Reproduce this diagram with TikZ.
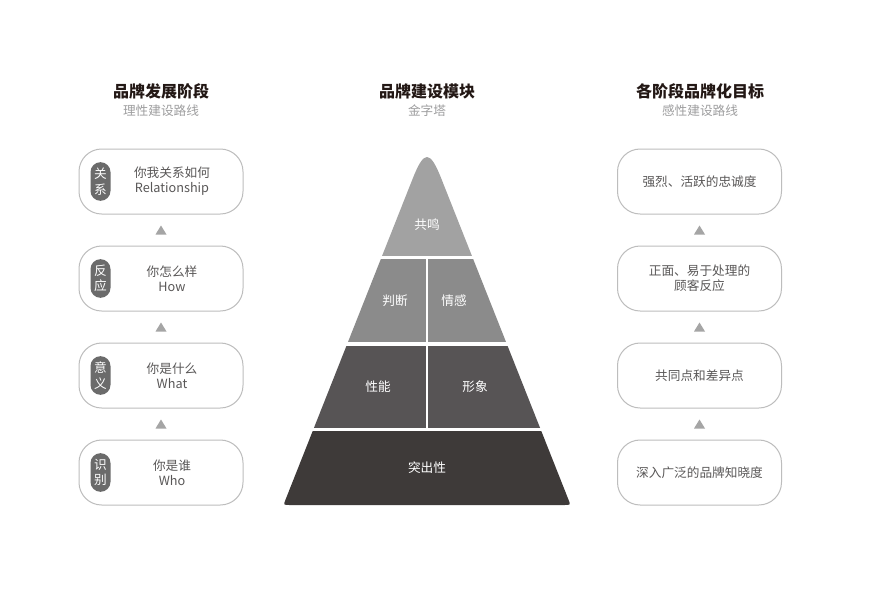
\documentclass[tikz,border=0pt]{standalone}
\usepackage{fontspec}
\setmainfont{Noto Sans CJK SC}
\usetikzlibrary{positioning, calc}
\definecolor{inkdark}{HTML}{231815}
\definecolor{textgray}{HTML}{595757}
\definecolor{subgray}{HTML}{9E9E9F}
\definecolor{linegray}{HTML}{BDBDBD}
\definecolor{taggray}{HTML}{6B6B6B}
\definecolor{markgray}{HTML}{A5A5A5}
\definecolor{tierone}{HTML}{A2A2A2}
\definecolor{tiertwo}{HTML}{8B8B8B}
\definecolor{tierthree}{HTML}{575455}
\definecolor{tierfour}{HTML}{3E3A39}

\begin{document}
\begin{tikzpicture}[
    x=0.75pt, y=-0.75pt,
    title/.style={font=\bfseries\fontsize{12}{14}\selectfont, text=inkdark},
    subtitle/.style={font=\fontsize{9.5}{11}\selectfont, text=subgray},
    card/.style={draw=linegray, line width=0.75pt, rounded corners=17pt, minimum width=123pt, minimum height=48.75pt, fill=white},
    cardtext/.style={font=\fontsize{9.5}{11.25}\selectfont, text=textgray, align=center},
    tag/.style={fill=taggray, text=white, rounded corners=7.5pt, minimum width=15pt, minimum height=29pt, inner sep=0pt, align=center, font=\fontsize{9.5}{11.5}\selectfont},
    tierlabel/.style={text=white, font=\fontsize{9.5}{11}\selectfont},
    marker/.style={fill=markgray},
]
    \useasboundingbox[fill=white] (0,0) rectangle (871,600);

    % Headings
    \node[title] (devtitle) at (161,91) {品牌发展阶段};
    \node[subtitle] (devsub) at (161,111) {理性建设路线};
    \node[title] (modtitle) at (427,91) {品牌建设模块};
    \node[subtitle] (modsub) at (427,111) {金字塔};
    \node[title] (goaltitle) at (700,91) {各阶段品牌化目标};
    \node[subtitle] (goalsub) at (700,111) {感性建设路线};

    % Stages (left)
    \foreach \i/\y/\tg/\txt in {1/181.5/{关\\系}/{你我关系如何\\Relationship},
                                2/278.5/{反\\应}/{你怎么样\\How},
                                3/375.5/{意\\义}/{你是什么\\What},
                                4/472.5/{识\\别}/{你是谁\\Who}} {
        \node[card] (l\i) at (161,\y) {};
        \node[tag] (tag\i) at ($(l\i.west)+(22,0)$) {\tg};
        \node[cardtext] (ltext\i) at ($(l\i.center)+(11,0)$) {\txt};
    }

    % Goals (right)
    \foreach \i/\y/\txt in {1/181.5/{强烈、活跃的忠诚度},
                            2/278.5/{正面、易于处理的\\顾客反应},
                            3/375.5/{共同点和差异点},
                            4/472.5/{深入广泛的品牌知晓度}} {
        \node[card] (r\i) at (699.5,\y) {};
        \node[cardtext] (rtext\i) at (r\i.center) {\txt};
    }

    % Up markers
    \foreach \i/\j in {1/2, 2/3, 3/4} {
        \coordinate (lm\i) at ($(l\i.south)!0.5!(l\j.north)$);
        \coordinate (rm\i) at ($(r\i.south)!0.5!(r\j.north)$);
        \fill[marker] ($(lm\i)+(0,-4.5)$) -- ($(lm\i)+(5.5,4.5)$) -- ($(lm\i)+(-5.5,4.5)$) -- cycle;
        \fill[marker] ($(rm\i)+(0,-4.5)$) -- ($(rm\i)+(5.5,4.5)$) -- ($(rm\i)+(-5.5,4.5)$) -- cycle;
    }

    % Pyramid
    \coordinate (apex) at (427,142.5);
    \coordinate (baseL) at (283.4,505);
    \coordinate (baseR) at (570.6,505);
    \begin{scope}
        \clip ($(apex)!0.1!(baseL)$) -- ($(baseL)!0.015!(apex)$)
            .. controls (baseL) .. ($(baseL)!0.021!(baseR)$)
            -- ($(baseR)!0.021!(baseL)$)
            .. controls (baseR) .. ($(baseR)!0.015!(apex)$)
            -- ($(apex)!0.1!(baseR)$)
            .. controls ($(apex)!0.02!(baseR)$) and ($(apex)!0.02!(baseL)$) .. ($(apex)!0.1!(baseL)$) -- cycle;
        \fill[tierone] (250,100) rectangle (610,255.5);
        \fill[tiertwo] (250,259) rectangle (426,342);
        \fill[tiertwo] (428,259) rectangle (610,342);
        \fill[tierthree] (250,345.5) rectangle (426,427.5);
        \fill[tierthree] (428,345.5) rectangle (610,427.5);
        \fill[tierfour] (250,431) rectangle (610,520);
    \end{scope}

    \node[tierlabel] (gongming) at (427,225) {共鸣};
    \node[tierlabel] (panduan) at (395,301) {判断};
    \node[tierlabel] (qinggan) at (454,301) {情感};
    \node[tierlabel] (xingneng) at (378,387) {性能};
    \node[tierlabel] (xingxiang) at (475,387) {形象};
    \node[tierlabel] (tuchu) at (427,468) {突出性};

\end{tikzpicture}
\end{document}
